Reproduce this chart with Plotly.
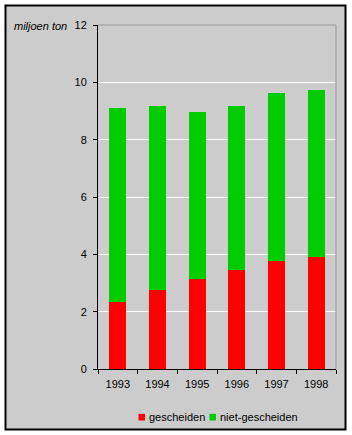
import plotly.graph_objects as go

years = ["1993", "1994", "1995", "1996", "1997", "1998"]
gescheiden = [2.35, 2.76, 3.14, 3.47, 3.77, 3.91]
totaal = [9.10, 9.17, 8.96, 9.17, 9.63, 9.73]
niet_gescheiden = [t - g for t, g in zip(totaal, gescheiden)]
y_ticks = [0, 2, 4, 6, 8, 10, 12]
series_names = ["gescheiden", "niet-gescheiden"]
series_colors = ["#FF0000", "#00CC00"]

W, H = 352, 435
L, R, T, B = 98, 16, 25, 66
pw, ph = W - L - R, H - T - B

def px_x(px):
    return (px - L) / pw

def px_y(py):
    return (H - B - py) / ph

font = dict(family="Liberation Sans, Arial", size=11, color="black")

fig = go.Figure()
for vals, name, col in zip([gescheiden, niet_gescheiden], series_names, series_colors):
    fig.add_trace(go.Bar(x=years, y=vals, name=name, showlegend=False,
                         marker=dict(color=col, line=dict(width=0))))

# manual legend (small square keys as in reference)
legend_keys = [(138.5, 147.5), (209.5, 218.5)]
shapes = [
    dict(type="rect", xref="paper", yref="paper",
         x0=px_x(5.5), x1=px_x(345.5), y0=px_y(429.5), y1=px_y(5.5),
         fillcolor="#CCCCCC", line=dict(color="black", width=2), layer="below"),
    dict(type="line", xref="paper", yref="paper", x0=0, x1=1, y0=1, y1=1,
         line=dict(color="#999999", width=1), layer="above"),
    dict(type="line", xref="paper", yref="paper", x0=1, x1=1, y0=0, y1=1,
         line=dict(color="#999999", width=1), layer="above"),
]
annotations = [
    dict(text="<i>miljoen ton</i>", xref="paper", yref="paper",
         x=px_x(12), y=px_y(25.5), xanchor="left", yanchor="middle",
         showarrow=False, font=font),
]
for (kx, tx), name, col in zip(legend_keys, series_names, series_colors):
    shapes.append(dict(type="rect", xref="paper", yref="paper",
                       x0=px_x(kx), x1=px_x(kx + 6.5), y0=px_y(420.5), y1=px_y(413.8),
                       fillcolor=col, line=dict(width=0), layer="above"))
    annotations.append(dict(text=name, xref="paper", yref="paper",
                            x=px_x(tx), y=px_y(417), xanchor="left", yanchor="middle",
                            showarrow=False, font=font, xshift=-1))

fig.update_layout(
    width=W, height=H,
    margin=dict(l=L, r=R, t=T, b=B, pad=0, autoexpand=False),
    barmode="stack", bargap=0.57,
    paper_bgcolor="white", plot_bgcolor="#CCCCCC",
    font=font,
    showlegend=False,
    xaxis=dict(showline=True, linecolor="black", linewidth=1, ticks="outside",
               tickson="boundaries", ticklen=4, tickcolor="black", showgrid=False,
               tickfont=font, ticklabelstandoff=5, automargin=False),
    yaxis=dict(range=[0, 12], tickvals=y_ticks, showline=True, linecolor="black", linewidth=1,
               ticks="outside", ticklen=4, tickcolor="black", showgrid=True,
               gridcolor="white", gridwidth=1, zeroline=False, tickfont=font,
               ticklabelstandoff=4, automargin=False),
    shapes=shapes,
    annotations=annotations,
)

fig.write_html("out.html")
